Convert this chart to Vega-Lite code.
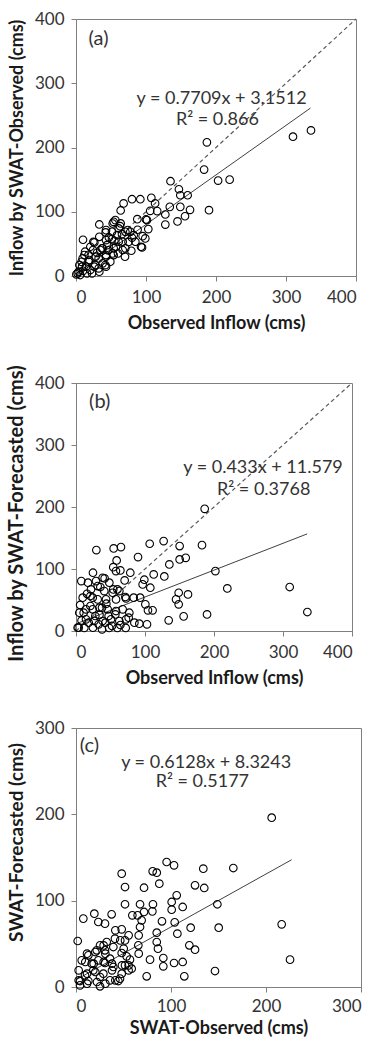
{
"$schema": "https://vega.github.io/schema/vega-lite/v6.json",
"padding": {"left": 5, "top": 9, "right": 0, "bottom": 0},
"spacing": 30,
"config": {
  "font": "Lato",
  "view": {"stroke": "#7f7f7f", "strokeWidth": 1},
  "axis": {"grid": false, "domainColor": "#7f7f7f", "tickColor": "#7f7f7f", "tickSize": 5, "labelFontSize": 17, "labelColor": "#333333", "titleFontSize": 18, "titleFontWeight": "bold", "titleColor": "#1a1a1a", "labelFont": "Lato", "titleFont": "Lato"},
  "axisY": {"labelPadding": 7, "titlePadding": 8},
  "axisX": {"labelPadding": 8, "titlePadding": 9},
  "text": {"font": "Lato", "color": "#333333"}
},
"datasets": {
  "a": [
{"x":335.7,"y":226.6},{"x":310,"y":216.8},{"x":187,"y":208},{"x":183,"y":165.6},{"x":203,"y":148.5},{"x":219.5,"y":150},{"x":190,"y":102.5},{"x":135,"y":147.5},{"x":147,"y":135},{"x":149,"y":125.7},{"x":159.5,"y":125.7},{"x":162.9,"y":103},{"x":149,"y":107.6},{"x":134,"y":107.6},{"x":155.7,"y":93},{"x":145,"y":85},{"x":127.6,"y":95.7},{"x":127.6,"y":80},{"x":107.6,"y":121.6},{"x":113,"y":113},{"x":116,"y":101},{"x":106,"y":101.4},{"x":101.4,"y":87},{"x":103.3,"y":73},{"x":99,"y":58.5},{"x":94.3,"y":44.5},{"x":91.9,"y":119.5},{"x":80,"y":119.5},{"x":68,"y":113},{"x":63.8,"y":102},{"x":53.8,"y":84.3},{"x":63.8,"y":81.8},{"x":70.5,"y":68.8},{"x":77.6,"y":68.8},{"x":87.6,"y":88.5},{"x":84.8,"y":53.3},{"x":79,"y":39.3},{"x":70.5,"y":43},{"x":33.3,"y":80.2},{"x":10,"y":56.4},{"x":26.2,"y":52.3},{"x":13,"y":37.8},{"x":24.3,"y":40.4},{"x":34.8,"y":40.4},{"x":42.4,"y":67.8},{"x":51.4,"y":68.8},{"x":51.4,"y":57.4},{"x":58.6,"y":63.6},{"x":61,"y":53.3},{"x":53.8,"y":43},{"x":42.9,"y":32.6},{"x":32.4,"y":27.4},{"x":18,"y":22.3},{"x":8.6,"y":14.5},{"x":3.8,"y":6.7},{"x":20.5,"y":9.3},{"x":32.4,"y":11.9},{"x":41.9,"y":17},{"x":53.8,"y":32.6},{"x":49,"y":22.3},{"x":27.6,"y":17},{"x":15.7,"y":4.1},{"x":22.9,"y":4.1},{"x":11.9,"y":32.6},{"x":20.5,"y":45.5},{"x":37,"y":43},{"x":44.3,"y":48},{"x":61,"y":74},{"x":75,"y":53},{"x":82.4,"y":63.6},{"x":6,"y":1.5},{"x":0.5,"y":2.6},{"x":56.2,"y":87},{"x":62.9,"y":77.6},{"x":52.4,"y":81.7},{"x":42.9,"y":71.4},{"x":65.7,"y":65.2},{"x":66.7,"y":53.3},{"x":54.8,"y":54.8},{"x":42.9,"y":55.9},{"x":33.3,"y":61},{"x":24.8,"y":53.3},{"x":38.1,"y":43},{"x":57.1,"y":45.5},{"x":66.7,"y":40.4},{"x":52.4,"y":35.2},{"x":42.9,"y":30},{"x":19,"y":24.9},{"x":9.5,"y":27.4},{"x":14.3,"y":14.5},{"x":26.2,"y":14.5},{"x":38.1,"y":19.7},{"x":4.8,"y":17.1},{"x":2.4,"y":4.1},{"x":33.3,"y":6.7},{"x":42.9,"y":14.5},{"x":95.2,"y":62},{"x":92.9,"y":45.5},{"x":80,"y":59.5},{"x":73.8,"y":71.4},{"x":100,"y":88},{"x":10,"y":8},{"x":28,"y":30},{"x":47,"y":60},{"x":60,"y":35},{"x":70,"y":30},{"x":18,"y":33},{"x":30,"y":36},{"x":8,"y":22},{"x":46,"y":40},{"x":88,"y":72}
  ],
  "b": [
{"x":186.5,"y":197},{"x":106.8,"y":140.7},{"x":127,"y":145},{"x":150.2,"y":137},{"x":182.6,"y":138.5},{"x":150.2,"y":115.4},{"x":159,"y":118},{"x":135.3,"y":107.4},{"x":112.6,"y":91.3},{"x":128,"y":88},{"x":202,"y":96.6},{"x":219.3,"y":68.7},{"x":309.7,"y":70.9},{"x":335.3,"y":30.6},{"x":189.9,"y":26.8},{"x":156,"y":23.6},{"x":134.3,"y":17.2},{"x":162.3,"y":59},{"x":148.8,"y":61.7},{"x":145,"y":51},{"x":148.8,"y":43},{"x":29.5,"y":130.5},{"x":54.6,"y":133.2},{"x":65.2,"y":135.3},{"x":58.9,"y":113.8},{"x":54,"y":103},{"x":57.9,"y":96.6},{"x":64.3,"y":97.7},{"x":78.7,"y":94},{"x":89.9,"y":119.2},{"x":99,"y":82.7},{"x":96.6,"y":75.2},{"x":107.7,"y":69.8},{"x":70.5,"y":81.6},{"x":54,"y":67.1},{"x":60,"y":67.1},{"x":71.5,"y":54.8},{"x":83.6,"y":53.7},{"x":93,"y":53.7},{"x":100.5,"y":43},{"x":104.3,"y":33.3},{"x":91.8,"y":11.8},{"x":102.9,"y":10.7},{"x":76.3,"y":21.5},{"x":64.3,"y":9.7},{"x":7.7,"y":80.5},{"x":24.6,"y":94},{"x":17.4,"y":77.9},{"x":35.3,"y":70.9},{"x":41.5,"y":84.8},{"x":9.7,"y":53.7},{"x":20.8,"y":56.4},{"x":31.4,"y":51},{"x":43.5,"y":51},{"x":37.7,"y":37.6},{"x":20.8,"y":40.3},{"x":11.1,"y":29.5},{"x":28,"y":24.2},{"x":47.3,"y":24.2},{"x":57,"y":26.8},{"x":18.4,"y":13.4},{"x":32.9,"y":10.7},{"x":42.5,"y":13.4},{"x":52.2,"y":8.1},{"x":3.9,"y":5.4},{"x":37.7,"y":2.7},{"x":24.6,"y":5.4},{"x":38.6,"y":85.9},{"x":29,"y":80.5},{"x":31.4,"y":72.5},{"x":48.3,"y":77.9},{"x":41,"y":64.4},{"x":53.1,"y":61.7},{"x":62.8,"y":64.4},{"x":21.7,"y":67.1},{"x":24.2,"y":53.7},{"x":58,"y":51},{"x":72.5,"y":52.6},{"x":111,"y":33.3},{"x":14.5,"y":34.9},{"x":4.8,"y":29.5},{"x":24.2,"y":35},{"x":33.9,"y":37.6},{"x":45.9,"y":34.9},{"x":58,"y":32.2},{"x":67.6,"y":34.9},{"x":77.3,"y":29.5},{"x":14.5,"y":18.8},{"x":26.6,"y":16.1},{"x":38.6,"y":16.1},{"x":50.7,"y":18.8},{"x":62.8,"y":16.1},{"x":72.5,"y":18.8},{"x":84.6,"y":13.4},{"x":2.4,"y":5.4},{"x":12,"y":5},{"x":48,"y":5},{"x":60,"y":5},{"x":72,"y":5},{"x":6,"y":42},{"x":16,"y":60},{"x":34,"y":26},{"x":44,"y":44},{"x":8,"y":17}
  ],
  "c": [
{"x":206,"y":196.1},{"x":165.6,"y":137.8},{"x":134,"y":137.1},{"x":135,"y":114.7},{"x":125.3,"y":117.8},{"x":95.4,"y":144.8},{"x":103.2,"y":140.9},{"x":80.7,"y":134},{"x":85,"y":132.4},{"x":87.7,"y":119.7},{"x":48.1,"y":131.3},{"x":51.6,"y":115.8},{"x":51.6,"y":95.8},{"x":71.6,"y":115},{"x":81,"y":95.8},{"x":80.4,"y":87.6},{"x":67.4,"y":95.8},{"x":71.6,"y":86.9},{"x":59.3,"y":83},{"x":64.9,"y":83},{"x":106,"y":106.2},{"x":100.7,"y":98.5},{"x":100.7,"y":89.6},{"x":112.3,"y":92.7},{"x":103.9,"y":74.9},{"x":90.5,"y":76.1},{"x":120.7,"y":68.7},{"x":106.7,"y":61.8},{"x":148.8,"y":95.8},{"x":150.2,"y":68.7},{"x":216.5,"y":72.6},{"x":225.3,"y":31.7},{"x":146.3,"y":18.5},{"x":114,"y":12.4},{"x":112.3,"y":29},{"x":103.2,"y":27.8},{"x":91.9,"y":23.9},{"x":91.9,"y":33.6},{"x":119.3,"y":48.3},{"x":125.3,"y":43.2},{"x":77.9,"y":31.7},{"x":74.4,"y":12.4},{"x":85,"y":52.1},{"x":85,"y":62.9},{"x":65.6,"y":48.3},{"x":67.4,"y":69.5},{"x":69.1,"y":77.2},{"x":7.7,"y":79.2},{"x":19.3,"y":84.9},{"x":23.5,"y":75.3},{"x":30.5,"y":73.4},{"x":37.5,"y":84.2},{"x":1.8,"y":53.3},{"x":48.1,"y":66.8},{"x":51.6,"y":54},{"x":41,"y":56},{"x":39.3,"y":46.3},{"x":48.1,"y":39.4},{"x":53.3,"y":35.5},{"x":51.6,"y":25.1},{"x":48.1,"y":15.4},{"x":44.6,"y":6.9},{"x":30.5,"y":42.5},{"x":21.8,"y":42.5},{"x":13,"y":36.7},{"x":6,"y":30.9},{"x":23.5,"y":30.9},{"x":30.5,"y":27.8},{"x":35.8,"y":32.8},{"x":39.3,"y":23.2},{"x":28.8,"y":15.4},{"x":18.2,"y":19.3},{"x":9.5,"y":13.5},{"x":4.2,"y":6.9},{"x":13,"y":6.9},{"x":25.3,"y":0.8},{"x":4.2,"y":1.9},{"x":16.5,"y":27},{"x":25.3,"y":11.6},{"x":35.8,"y":7.7},{"x":46.3,"y":9.7},{"x":56.8,"y":31.7},{"x":58.6,"y":21.2},{"x":32.3,"y":52.1},{"x":25.3,"y":48.3},{"x":11.6,"y":38.6},{"x":20.3,"y":40.5},{"x":30.9,"y":38.6},{"x":50.2,"y":44.4},{"x":46.6,"y":54},{"x":29.1,"y":48.2},{"x":41.4,"y":65.6},{"x":55.4,"y":59.8},{"x":66,"y":38.6},{"x":66,"y":59.8},{"x":86.3,"y":44.4},{"x":2.8,"y":19.3},{"x":11.6,"y":15.4},{"x":20.3,"y":17.4},{"x":37.9,"y":19.3},{"x":55.4,"y":19.3},{"x":2.8,"y":7.7},{"x":11.6,"y":3.9},{"x":22.1,"y":5.8},{"x":30.9,"y":3.9},{"x":41.4,"y":7.7},{"x":9.8,"y":29},{"x":18.6,"y":27},{"x":29.1,"y":29},{"x":37.9,"y":27},{"x":48.4,"y":25},{"x":55.4,"y":25}
  ]
},
"vconcat": [
 {
  "width": 280, "height": 257,
  "layer": [
    {"data": {"values": [{"x": 0, "y": 0}, {"x": 400, "y": 400}]}, "mark": {"type": "line", "color": "#595959", "strokeWidth": 1.2, "strokeDash": [4, 3]},
     "encoding": {
      "x": {"field": "x", "type": "quantitative", "scale": {"domain": [0, 400], "nice": false}, "axis": {"values": [0,100,200,300,400]}, "title": "Observed Inflow (cms)"},
      "y": {"field": "y", "type": "quantitative", "scale": {"domain": [0, 400], "nice": false}, "axis": {"values": [0,100,200,300,400], "titleFontSize": 18}, "title": "Inflow by SWAT-Observed (cms)"}}},
    {"data": {"values": [{"x": 0, "y": 3.15}, {"x": 335, "y": 261.4}]}, "mark": {"type": "line", "color": "#404040", "strokeWidth": 1},
     "encoding": {"x": {"field": "x", "type": "quantitative"}, "y": {"field": "y", "type": "quantitative"}}},
    {"data": {"name": "a"}, "mark": {"type": "point", "shape": "circle", "filled": false, "size": 58, "color": "#000000", "strokeWidth": 1.1, "opacity": 1},
     "encoding": {"x": {"field": "x", "type": "quantitative"}, "y": {"field": "y", "type": "quantitative"}}},
    {"data": {"values": [{"k": 1}]}, "mark": {"type": "text", "fontSize": 20, "align": "left", "baseline": "middle", "text": "(a)"}, "encoding": {"x": {"datum": 18}, "y": {"datum": 369}}},
    {"data": {"values": [{"k": 1}]}, "mark": {"type": "text", "fontSize": 18, "align": "center", "baseline": "middle", "text": "y = 0.7709x + 3.1512"}, "encoding": {"x": {"datum": 208}, "y": {"datum": 276}}},
    {"data": {"values": [{"k": 1}]}, "mark": {"type": "text", "fontSize": 18, "align": "center", "baseline": "middle", "text": "R² = 0.866"}, "encoding": {"x": {"datum": 202}, "y": {"datum": 243}}}
  ]
 },
 {
  "width": 276, "height": 248,
  "layer": [
    {"data": {"values": [{"x": 0, "y": 0}, {"x": 400, "y": 400}]}, "mark": {"type": "line", "color": "#595959", "strokeWidth": 1.2, "strokeDash": [4, 3]},
     "encoding": {
      "x": {"field": "x", "type": "quantitative", "scale": {"domain": [0, 400], "nice": false}, "axis": {"values": [0,100,200,300,400]}, "title": "Observed Inflow (cms)"},
      "y": {"field": "y", "type": "quantitative", "scale": {"domain": [0, 400], "nice": false}, "axis": {"values": [0,100,200,300,400], "titleFontSize": 20, "titleY": 130}, "title": "Inflow by SWAT-Forecasted (cms)"}}},
    {"data": {"values": [{"x": 0, "y": 11.58}, {"x": 335, "y": 156.6}]}, "mark": {"type": "line", "color": "#404040", "strokeWidth": 1},
     "encoding": {"x": {"field": "x", "type": "quantitative"}, "y": {"field": "y", "type": "quantitative"}}},
    {"data": {"name": "b"}, "mark": {"type": "point", "shape": "circle", "filled": false, "size": 58, "color": "#000000", "strokeWidth": 1.1, "opacity": 1},
     "encoding": {"x": {"field": "x", "type": "quantitative"}, "y": {"field": "y", "type": "quantitative"}}},
    {"data": {"values": [{"k": 1}]}, "mark": {"type": "text", "fontSize": 20, "align": "left", "baseline": "middle", "text": "(b)"}, "encoding": {"x": {"datum": 19}, "y": {"datum": 370}}},
    {"data": {"values": [{"k": 1}]}, "mark": {"type": "text", "fontSize": 18, "align": "center", "baseline": "middle", "text": "y = 0.433x + 11.579"}, "encoding": {"x": {"datum": 271}, "y": {"datum": 263}}},
    {"data": {"values": [{"k": 1}]}, "mark": {"type": "text", "fontSize": 18, "align": "center", "baseline": "middle", "text": "R² = 0.3768"}, "encoding": {"x": {"datum": 272}, "y": {"datum": 228}}}
  ]
 },
 {
  "width": 285, "height": 259,
  "layer": [
    {"data": {"values": [{"x": 0, "y": 8.32}, {"x": 227, "y": 147.4}]}, "mark": {"type": "line", "color": "#404040", "strokeWidth": 1},
     "encoding": {
      "x": {"field": "x", "type": "quantitative", "scale": {"domain": [0, 300], "nice": false}, "axis": {"values": [0,100,200,300], "labelPadding": 6, "titlePadding": 5}, "title": "SWAT-Observed (cms)"},
      "y": {"field": "y", "type": "quantitative", "scale": {"domain": [0, 300], "nice": false}, "axis": {"values": [0,100,200,300], "titleFontSize": 19, "titleY": 114}, "title": "SWAT-Forecasted (cms)"}}},
    {"data": {"name": "c"}, "mark": {"type": "point", "shape": "circle", "filled": false, "size": 58, "color": "#000000", "strokeWidth": 1.1, "opacity": 1},
     "encoding": {"x": {"field": "x", "type": "quantitative"}, "y": {"field": "y", "type": "quantitative"}}},
    {"data": {"values": [{"k": 1}]}, "mark": {"type": "text", "fontSize": 20, "align": "left", "baseline": "middle", "text": "(c)"}, "encoding": {"x": {"datum": 4}, "y": {"datum": 279}}},
    {"data": {"values": [{"k": 1}]}, "mark": {"type": "text", "fontSize": 18, "align": "center", "baseline": "middle", "text": "y = 0.6128x + 8.3243"}, "encoding": {"x": {"datum": 137}, "y": {"datum": 260}}},
    {"data": {"values": [{"k": 1}]}, "mark": {"type": "text", "fontSize": 18, "align": "center", "baseline": "middle", "text": "R² = 0.5177"}, "encoding": {"x": {"datum": 133}, "y": {"datum": 237}}}
  ]
 }
]
}
